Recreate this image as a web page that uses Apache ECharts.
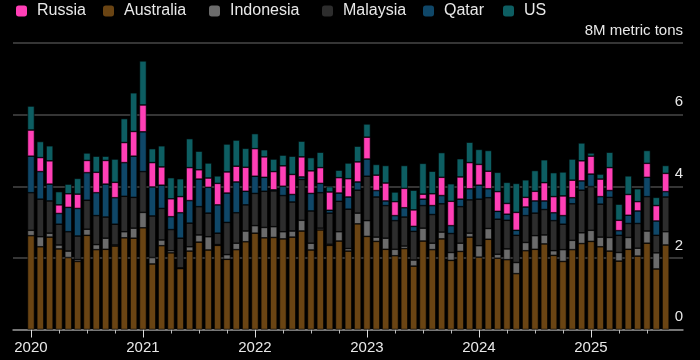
<!DOCTYPE html>
<html>
<head>
<meta charset="utf-8">
<script src="https://cdn.jsdelivr.net/npm/echarts@6/dist/echarts.min.js"></script>
<style>
html,body{margin:0;padding:0;background:#000;}
#c{width:700px;height:360px;}
</style>
</head>
<body>
<div id="c"></div>
<script>
// Monthly LNG imports by origin (million metric tons), Jan 2020 - Sep 2025
var years = [2020, 2021, 2022, 2023, 2024, 2025];
var categories = [];
years.forEach(function (y) { for (var m = 1; m <= 12; m++) { if (y === 2025 && m > 9) break; categories.push(y + '-' + (m < 10 ? '0' + m : m)); } });

var australia = [2.62,2.31,2.58,2.25,2.01,1.90,2.63,2.23,2.24,2.33,2.56,2.55,
  2.84,1.83,2.34,2.14,1.70,2.19,2.44,2.22,2.35,1.96,2.23,2.45,
  2.69,2.56,2.57,2.53,2.58,2.75,2.22,2.78,2.35,2.47,2.19,2.95,
  2.60,2.46,2.24,2.06,2.26,1.77,2.47,2.23,2.53,1.93,2.18,2.58,
  2.02,2.52,1.99,1.95,1.56,2.20,2.24,2.39,2.07,1.90,2.23,2.40,
  2.46,2.31,2.19,1.91,2.24,2.05,2.41,1.69,2.36];
var indonesia = [0.15,0.28,0.11,0.11,0.18,0.05,0.17,0.14,0.31,0.03,0.17,0.28,
  0.43,0.18,0.16,0.06,0.02,0.12,0.20,0.37,0.02,0.13,0.18,0.30,
  0.21,0.29,0.30,0.20,0.17,0.30,0.19,0.05,0.03,0.26,0.07,0.30,
  0.44,0.12,0.31,0.18,0.07,0.17,0.36,0.18,0.19,0.22,0.23,0.11,
  0.32,0.30,0.11,0.30,0.31,0.23,0.38,0.25,0.13,0.33,0.26,0.30,
  0.31,0.27,0.38,0.24,0.33,0.22,0.34,0.45,0.37];
var malaysia = [1.05,1.05,0.90,0.58,0.54,0.66,0.81,0.81,0.59,0.58,0.99,0.86,
  1.14,1.16,0.88,0.59,0.83,0.66,0.79,0.66,0.32,0.90,0.85,0.73,
  0.90,1.01,1.00,1.01,0.81,1.14,0.90,0.99,0.87,0.85,1.10,0.64,
  1.24,1.12,0.91,0.80,0.81,0.80,0.63,0.80,0.79,0.53,1.02,0.93,
  1.30,0.86,0.98,0.80,0.76,0.75,0.63,0.71,0.84,0.71,1.02,1.19,
  1.22,0.92,1.12,0.48,0.39,0.69,0.96,0.49,0.97];
var qatar = [1.02,0.77,0.47,0.30,0.68,0.77,0.77,0.64,0.92,0.74,0.94,1.15,
  1.11,0.81,0.65,0.36,0.71,0.63,0.77,0.72,0.79,0.82,0.86,0.38,
  0.48,0.39,0.03,0.26,0.21,0.07,0.49,0.26,0.08,0.23,0.34,0.23,
  0.48,0.18,0.13,0.14,0.26,0.14,0.18,0.25,0.23,0.22,0.21,0.31,
  0.39,0.25,0.22,0.17,0.14,0.24,0.34,0.24,0.22,0.24,0.17,0.26,
  0.35,0.21,0.19,0.13,0.23,0.35,0.54,0.40,0.15];
var russia = [0.73,0.39,0.65,0.24,0.38,0.40,0.34,0.57,0.66,0.43,0.56,0.69,
  0.75,0.68,0.51,0.50,0.45,0.92,0.26,0.26,0.60,0.59,0.44,0.67,
  0.77,0.57,0.51,0.57,0.56,0.56,0.63,0.44,0.51,0.43,0.51,0.56,
  0.61,0.43,0.50,0.39,0.54,0.46,0.14,0.33,0.51,0.68,0.62,0.73,
  0.58,0.49,0.55,0.30,0.50,0.27,0.27,0.51,0.45,0.55,0.49,0.56,
  0.50,0.49,0.64,0.29,0.58,0.26,0.39,0.43,0.51];
var us = [0.67,0.45,0.42,0.37,0.27,0.44,0.21,0.45,0.12,0.65,0.67,1.08,
  1.23,0.39,0.59,0.59,0.50,0.81,0.52,0.42,0.21,0.78,0.73,0.53,
  0.42,0.20,0.35,0.30,0.51,0.44,0.37,0.43,0.15,0.21,0.44,0.44,
  0.37,0.30,0.49,0.27,0.64,0.55,0.86,0.63,0.69,0.49,0.51,0.57,
  0.42,0.58,0.54,0.59,0.81,0.49,0.58,0.64,0.67,0.67,0.59,0.50,
  0.09,0.14,0.43,0.45,0.52,0.36,0.36,0.23,0.22];

var yTicks = [0, 2, 4, 6, 8];
var unitLabel = '8M metric tons';

var colors = {
  Russia: '#ff3fb6',
  Australia: '#6a4413',
  Indonesia: '#6b6b6b',
  Malaysia: '#2d2d2d',
  Qatar: '#0f4768',
  US: '#0d5e62'
};
var stackOrder = [['Australia', australia], ['Indonesia', indonesia], ['Malaysia', malaysia],
                  ['Qatar', qatar], ['Russia', russia], ['US', us]];
var legendOrder = ['Russia', 'Australia', 'Indonesia', 'Malaysia', 'Qatar', 'US'];
var legendLeft = [16, 103, 209, 322, 423, 503];

var FONT = 'Liberation Sans';
var chart = echarts.init(document.getElementById('c'), null, { renderer: 'canvas' });

var series = stackOrder.map(function (s) {
  return {
    name: s[0], type: 'bar', stack: 'total', data: s[1],
    xAxisIndex: 1, yAxisIndex: 1,
    barWidth: 7,
    itemStyle: { color: colors[s[0]], borderColor: '#000', borderWidth: 0.6 },
    emphasis: { disabled: true }
  };
});

var legends = legendOrder.map(function (n, i) {
  return {
    data: [{ name: n, icon: 'roundRect' }],
    left: legendLeft[i], top: 3, padding: 0,
    itemWidth: 11, itemHeight: 11,
    itemStyle: { borderWidth: 0 },
    textStyle: { color: '#e8e8e8', fontSize: 16, fontFamily: FONT, padding: [0, 0, 0, 5] },
    selectedMode: false
  };
});

chart.setOption({
  backgroundColor: '#000',
  animation: false,
  legend: legends,
  grid: [
    { left: 13, right: 17, top: 43, bottom: 30.5 },
    { left: 26.3, right: 29.7, top: 43, bottom: 30.5 }
  ],
  xAxis: [
    { type: 'value', gridIndex: 0, min: 0, max: 1, position: 'bottom',
      axisLine: { show: true, lineStyle: { color: '#8c8c8c', width: 1.5 } },
      axisTick: { show: false }, axisLabel: { show: false }, splitLine: { show: false } },
    { type: 'category', gridIndex: 1, data: categories, boundaryGap: true, position: 'bottom', offset: 0,
      axisLine: { show: false },
      axisTick: { show: true, alignWithLabel: true, length: 4,
        interval: function (i) { return i % 3 === 0; },
        lineStyle: { color: '#bbbbbb', width: 1 } },
      axisLabel: { show: false } },
    { type: 'category', gridIndex: 1, data: categories, boundaryGap: true, position: 'bottom', offset: 0,
      axisLine: { show: false },
      axisTick: { show: true, alignWithLabel: true, length: 8,
        interval: function (i) { return i % 12 === 0; },
        lineStyle: { color: '#dddddd', width: 1 } },
      axisLabel: { show: true, color: '#e8e8e8', fontSize: 15, fontFamily: FONT, margin: 11,
        interval: function (i) { return i % 12 === 0; },
        formatter: function (v) { return v.slice(0, 4); } } }
  ],
  yAxis: [
    { type: 'value', gridIndex: 0, min: yTicks[0], max: yTicks[yTicks.length - 1], interval: 2,
      position: 'right',
      axisLine: { show: false }, axisTick: { show: false },
      splitLine: { show: true, lineStyle: { color: '#474747', width: 1.5 } },
      axisLabel: { inside: true, margin: 0, color: '#e8e8e8', fontSize: 15, fontFamily: FONT,
        verticalAlign: 'bottom', padding: [0, 0, 5, 0],
        formatter: function (v) { return v === 8 ? unitLabel : String(v); } } },
    { type: 'value', gridIndex: 1, min: 0, max: 8, interval: 2, show: false,
      splitLine: { show: false } }
  ],
  series: series
});
</script>
</body>
</html>
